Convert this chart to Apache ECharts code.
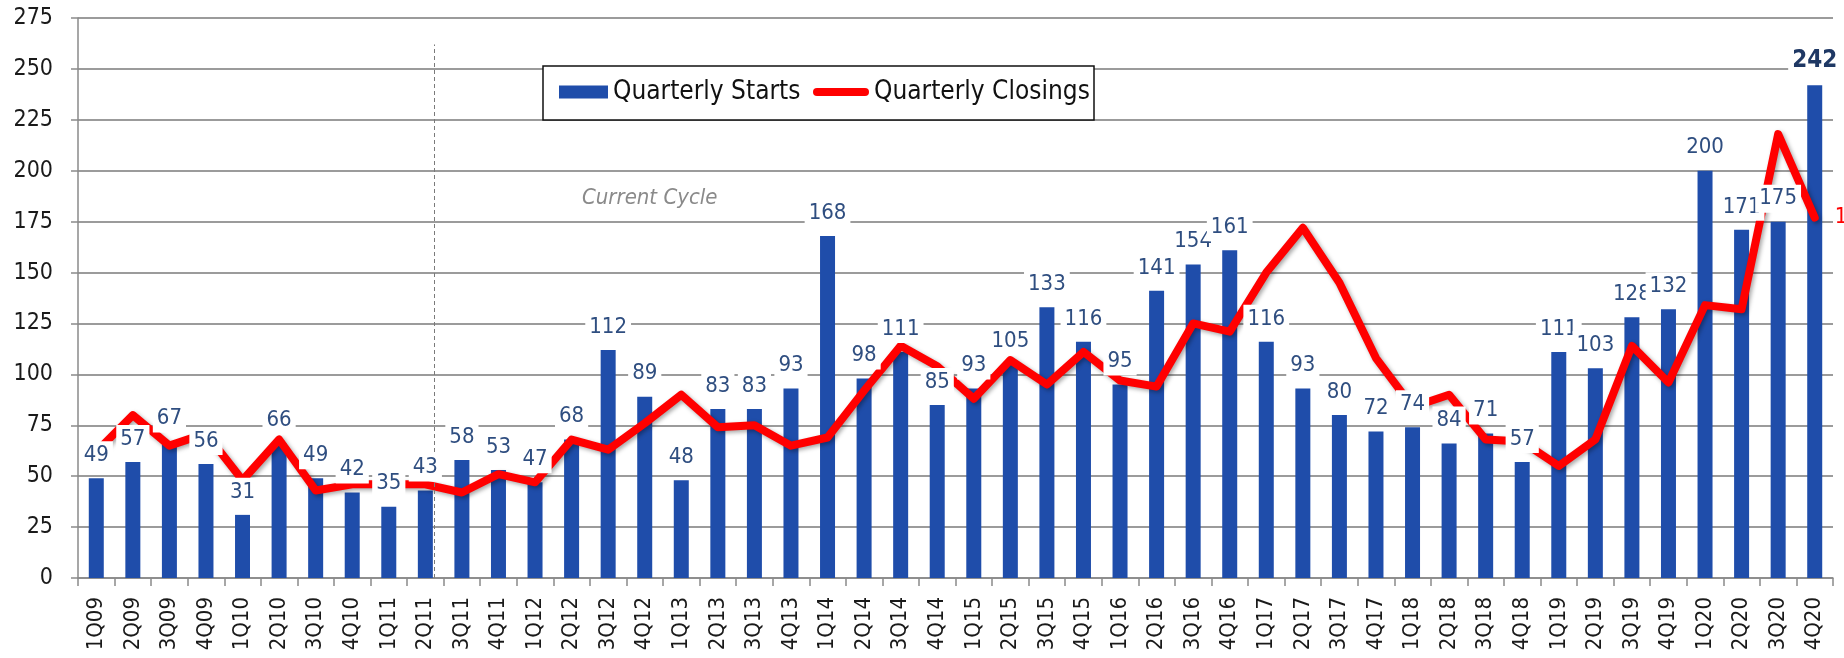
<!DOCTYPE html>
<html>
<head>
<meta charset="utf-8">
<script src="https://cdn.jsdelivr.net/npm/echarts@6/dist/echarts.min.js"></script>
<style>html,body{margin:0;padding:0;background:#fff;}#c{width:1844px;height:658px;}</style>
</head>
<body>
<div id="c"></div>
<script>
const quarters = ['1Q09','2Q09','3Q09','4Q09','1Q10','2Q10','3Q10','4Q10','1Q11','2Q11','3Q11','4Q11',
  '1Q12','2Q12','3Q12','4Q12','1Q13','2Q13','3Q13','4Q13','1Q14','2Q14','3Q14','4Q14',
  '1Q15','2Q15','3Q15','4Q15','1Q16','2Q16','3Q16','4Q16','1Q17','2Q17','3Q17','4Q17',
  '1Q18','2Q18','3Q18','4Q18','1Q19','2Q19','3Q19','4Q19','1Q20','2Q20','3Q20','4Q20'];
const starts = [49,57,67,56, 31,66,49,42, 35,43,58,53, 47,68,112,89, 48,83,83,93, 168,98,111,85,
  93,105,133,116, 95,141,154,161, 116,93,80,72, 74,66,71,57, 111,103,128,132, 200,171,175,242];
const startLabels = ['49','57','67','56','31','66','49','42','35','43','58','53','47','68','112','89',
  '48','83','83','93','168','98','111','85','93','105','133','116','95','141','154','161',
  '116','93','80','72','74','84','71','57','111','103','128','132','200','171','175','242'];
const closings = [62,80,65,71, 48,68,43,46, 46,46,42,51, 47,68,63,76, 90,74,75,65, 69,92,114,104,
  88,107,95,111, 97,94,125,121, 150,172,145,108, 84,90,68,67, 55,68,114,96, 134,132,218,177];
const yTicks = {min: 0, max: 275, interval: 25};
const cycleLabel = 'Current Cycle';
const cycleStartPos = 9.74;   // position on the category scale (0..48) where the current cycle begins
const cycleLineTop = 262;

const FONT = "'DejaVu Sans Condensed', 'DejaVu Sans', sans-serif";
const chart = echarts.init(document.getElementById('c'), null, {renderer: 'canvas'});
const last = starts.length - 1;

const option = {
  animation: false,
  backgroundColor: '#ffffff',
  textStyle: {fontFamily: FONT},
  grid: {left: 78, right: 11, top: 18, bottom: 80, containLabel: false},
  xAxis: [{
    type: 'category', data: quarters, boundaryGap: true,
    axisLine: {lineStyle: {color: '#8a8a8a', width: 1.5}},
    axisTick: {show: true, length: 8, lineStyle: {color: '#8a8a8a', width: 1.5}},
    axisLabel: {rotate: 90, interval: 0, fontSize: 22, color: '#1a1a1a', margin: 19, fontFamily: FONT}
  }, {
    type: 'value', min: 0, max: quarters.length, show: false
  }],
  yAxis: {
    type: 'value', min: yTicks.min, max: yTicks.max, interval: yTicks.interval,
    axisLine: {show: true, lineStyle: {color: '#8a8a8a', width: 1.5}},
    axisTick: {show: true, length: 7, lineStyle: {color: '#8a8a8a', width: 1.5}},
    splitLine: {show: true, lineStyle: {color: '#7a7a7a', width: 1.5}},
    axisLabel: {fontSize: 23, color: '#1a1a1a', margin: 25, fontFamily: FONT}
  },
  legend: [{
    data: [{name: 'Quarterly Starts', icon: 'rect'}],
    left: 559, top: 79, padding: 0, itemWidth: 49, itemHeight: 13, z: 20,
    textStyle: {fontSize: 26, color: '#111', fontFamily: FONT}
  }, {
    data: [{name: 'Quarterly Closings', icon: 'path://M4,0 L52,0 A4,4 0 0 1 52,8 L4,8 A4,4 0 0 1 4,0 Z'}],
    left: 813, top: 79, padding: 0, itemWidth: 56, itemHeight: 9, z: 20,
    textStyle: {fontSize: 26, color: '#111', fontFamily: FONT}
  }],
  graphic: [{
    type: 'rect', z: 15, shape: {x: 543, y: 66, width: 551, height: 54},
    style: {fill: '#ffffff', stroke: '#111111', lineWidth: 1.5}
  }, {
    type: 'text', z: 15, left: 582, top: 187,
    style: {text: cycleLabel, fill: '#8a8a8a', font: 'italic 22px ' + FONT}
  }],
  series: [{
    name: 'Quarterly Starts', type: 'bar', data: starts, barWidth: 15, z: 2,
    itemStyle: {color: '#1F4DAA'}
  }, {
    name: 'Quarterly Closings', type: 'line', z: 3, showSymbol: false, symbol: 'none',
    data: closings,
    lineStyle: {color: '#FF0000', width: 8, cap: 'round', join: 'round',
      shadowColor: 'rgba(0,0,0,0.35)', shadowBlur: 4, shadowOffsetX: 2, shadowOffsetY: 2},
    itemStyle: {color: '#FF0000'},
    endLabel: {show: true, distance: 20, color: '#FF0000', fontSize: 22, fontFamily: FONT}
  }, {
    name: 'labels', type: 'bar', barWidth: 15, barGap: '-100%', z: 5, silent: true,
    data: starts.map((v, i) => i === last
      ? {value: v, label: {fontWeight: 'bold', fontSize: 24, color: '#1F3864'}} : v),
    itemStyle: {color: 'rgba(0,0,0,0)'},
    label: {
      show: true, position: 'top', distance: 9, fontSize: 22, color: '#2F4E80',
      fontFamily: FONT, backgroundColor: '#ffffff', padding: [3, 4],
      formatter: p => startLabels[p.dataIndex]
    }
  }, {
    name: 'cycle', type: 'line', xAxisIndex: 1, yAxisIndex: 0, data: [], silent: true,
    markLine: {
      symbol: 'none', silent: true, label: {show: false},
      lineStyle: {type: [4, 3], color: '#7a7a7a', width: 1},
      data: [[{coord: [cycleStartPos, 0]}, {coord: [cycleStartPos, cycleLineTop]}]]
    }
  }]
};
chart.setOption(option);
</script>
</body>
</html>
